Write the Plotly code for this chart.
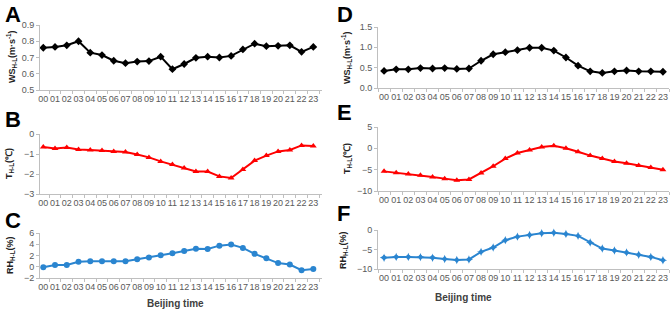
import plotly.graph_objects as go

hours = [f"{h:02d}" for h in range(24)]

ws_a = [0.76, 0.765, 0.775, 0.80, 0.73, 0.715, 0.68, 0.665, 0.675, 0.678, 0.705, 0.628,
        0.66, 0.698, 0.705, 0.70, 0.71, 0.75, 0.785, 0.77, 0.772, 0.775, 0.735, 0.765]
t_b = [-0.65, -0.72, -0.68, -0.78, -0.80, -0.83, -0.87, -0.90, -1.03, -1.17, -1.37, -1.53,
       -1.70, -1.87, -1.88, -2.12, -2.20, -1.78, -1.33, -1.08, -0.87, -0.80, -0.57, -0.60]
rh_c = [-0.1, 0.3, 0.3, 0.9, 1.0, 1.0, 1.0, 1.0, 1.35, 1.65, 2.05, 2.4,
        2.8, 3.2, 3.15, 3.75, 3.95, 3.35, 2.3, 1.5, 0.65, 0.4, -0.6, -0.4]
ws_d = [0.42, 0.46, 0.46, 0.49, 0.48, 0.49, 0.47, 0.48, 0.67, 0.83, 0.88, 0.93,
        0.99, 0.99, 0.92, 0.75, 0.55, 0.41, 0.37, 0.41, 0.43, 0.41, 0.41, 0.40]
t_e = [-5.4, -5.7, -6.0, -6.3, -6.7, -7.1, -7.5, -7.3, -5.8, -4.2, -2.4, -1.1,
       -0.4, 0.3, 0.6, 0.0, -0.8, -1.7, -2.4, -3.1, -3.5, -4.0, -4.5, -5.0]
rh_f = [-7.1, -6.9, -6.9, -6.95, -7.1, -7.45, -7.7, -7.55, -5.6, -4.5, -2.6, -1.7,
        -1.3, -0.85, -0.7, -1.0, -1.5, -3.2, -4.75, -5.25, -5.75, -6.35, -6.9, -7.75]

W, H = 671, 311
FONT = "Liberation Sans, Arial, sans-serif"
TICKC = "#595959"
AXC = "#BFBFBF"
BLUE = "#2A85D0"

def px(x):
    return x / W

def py(y):
    return 1 - y / H

panels = [
    dict(y=ws_a, color="black", sym="diamond", msize=6, xd=(40, 322), yd=(25, 90), rng=[0.5, 0.9], dtick=0.1, fmt=".1f",
         title="WS<sub>H-L</sub>(m·s<sup>-1</sup>)", letter="A", lp=(3, 15), tp=(12, 57), xr=[-0.28, 23.74]),
    dict(y=t_b, color="#FF0000", sym="triangle-up", msize=6, xd=(40, 322), yd=(134, 194), rng=[-3, 0], dtick=1, fmt="",
         title="T<sub>H-L</sub>(℃)", letter="B", lp=(3, 120), tp=(10, 164), xr=[-0.28, 23.74]),
    dict(y=rh_c, color=BLUE, sym="circle", msize=6, xd=(40, 322), yd=(233, 278), rng=[-2, 6], dtick=2, fmt="",
         title="RH<sub>H-L</sub>(%)", letter="C", lp=(3, 220), tp=(10, 255), xr=[-0.28, 23.74]),
    dict(y=ws_d, color="black", sym="diamond", msize=6, xd=(378, 669), yd=(27, 88), rng=[0, 1.5], dtick=0.5, fmt=".1f",
         title="WS<sub>H-L</sub>(m·s<sup>-1</sup>)", letter="D", lp=(335, 15), tp=(347, 57), xr=[-0.5, 23.5]),
    dict(y=t_e, color="#FF0000", sym="triangle-up", msize=6, xd=(378, 669), yd=(127, 191), rng=[-10, 5], dtick=5, fmt="",
         title="T<sub>H-L</sub>(℃)", letter="E", lp=(335, 113), tp=(347, 158), xr=[-0.5, 23.5]),
    dict(y=rh_f, color=BLUE, sym="star-diamond", msize=6, xd=(378, 669), yd=(230, 269), rng=[-10, 0], dtick=5, fmt="",
         title="RH<sub>H-L</sub>(%)", letter="F", lp=(335, 213), tp=(343, 250), xr=[-0.5, 23.5]),
]

fig = go.Figure()
annotations = []
for i, p in enumerate(panels, start=1):
    xa = "x" if i == 1 else f"x{i}"
    ya = "y" if i == 1 else f"y{i}"
    fig.add_trace(go.Scatter(
        x=hours, y=p["y"], mode="lines+markers", xaxis=xa, yaxis=ya,
        line=dict(color=p["color"], width=2),
        marker=dict(symbol=p["sym"], size=p["msize"], color=p["color"]),
        showlegend=False, cliponaxis=False,
    ))
    kx = "xaxis" if i == 1 else f"xaxis{i}"
    ky = "yaxis" if i == 1 else f"yaxis{i}"
    fig.layout[kx] = dict(
        domain=[px(p["xd"][0]), px(p["xd"][1])], anchor=ya, type="category",
        categoryorder="array", categoryarray=hours, range=p["xr"], automargin=False,
        tickmode="array", tickvals=hours, ticktext=hours,
        showline=True, linecolor=AXC, linewidth=1, ticks="outside", tickson="boundaries",
        ticklen=3, tickcolor=AXC, showgrid=False, zeroline=False,
        tickfont=dict(family=FONT, size=9, color=TICKC), tickangle=0, fixedrange=True,
    )
    fig.layout[ky] = dict(
        domain=[py(p["yd"][1]), py(p["yd"][0])], anchor=xa, range=p["rng"], automargin=False,
        dtick=p["dtick"], tick0=p["rng"][0], tickformat=p["fmt"],
        showline=True, linecolor=AXC, linewidth=1, ticks="outside", ticklen=3, tickcolor=AXC,
        showgrid=False, zeroline=False,
        tickfont=dict(family=FONT, size=9, color=TICKC), fixedrange=True,
    )
    annotations.append(dict(
        text=f"<b>{p['letter']}</b>", x=px(p["lp"][0]), y=py(p["lp"][1]), xref="paper", yref="paper",
        xanchor="left", yanchor="middle", showarrow=False,
        font=dict(family=FONT, size=22, color="black"),
    ))
    annotations.append(dict(
        text=f"<b>{p['title']}</b>", x=px(p["tp"][0]), y=py(p["tp"][1]), xref="paper", yref="paper",
        xanchor="center", yanchor="middle", showarrow=False, textangle=-90,
        font=dict(family=FONT, size=9, color="#222222"),
    ))

for (x, y) in [(175, 303), (463, 297)]:
    annotations.append(dict(
        text="<b>Beijing time</b>", x=px(x), y=py(y), xref="paper", yref="paper",
        xanchor="center", yanchor="middle", showarrow=False,
        font=dict(family=FONT, size=10, color="#404040"),
    ))

fig.update_layout(
    width=W, height=H, margin=dict(l=0, r=0, t=0, b=0, autoexpand=False),
    paper_bgcolor="white", plot_bgcolor="white",
    annotations=annotations,
)

fig.write_html("out.html", config={"displayModeBar": False},
               post_script="document.body.style.margin='0';document.body.style.overflow='hidden';")
